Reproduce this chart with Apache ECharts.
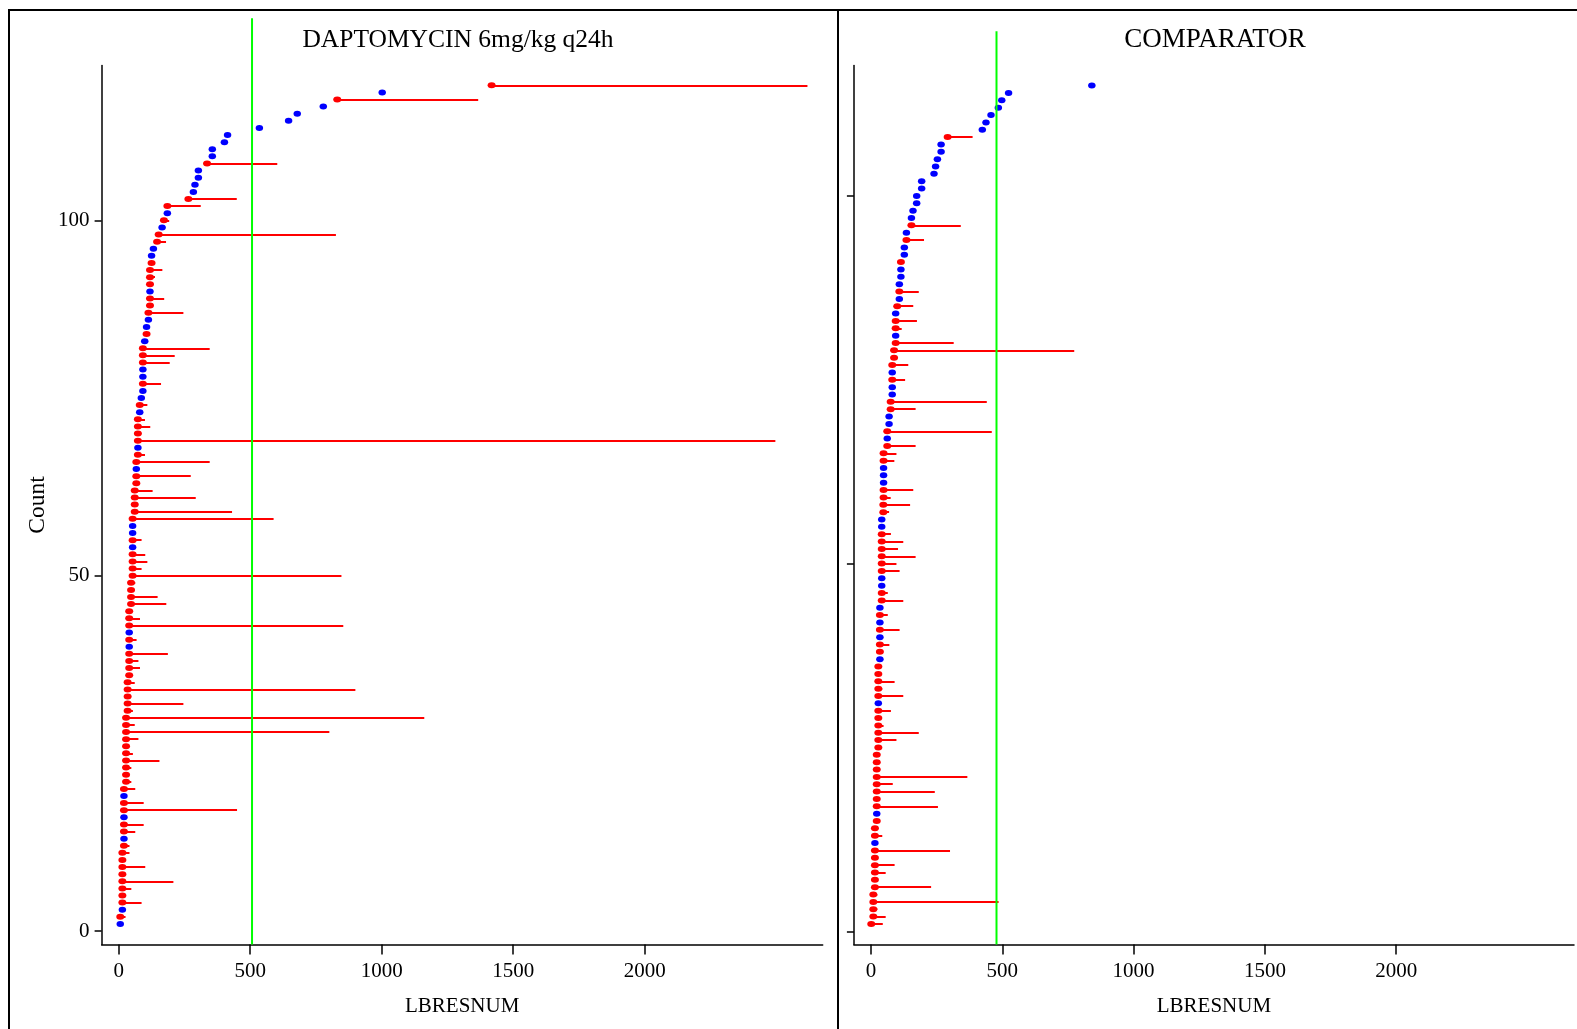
<!DOCTYPE html>
<html><head><meta charset="utf-8">
<script src="https://cdn.jsdelivr.net/npm/echarts@6/dist/echarts.min.js"></script>
<style>html,body{margin:0;padding:0;background:#fff}#c{width:1577px;height:1029px}</style>
</head><body><div id="c"></div>
<script>
const panelTitles = ['DAPTOMYCIN 6mg/kg q24h', 'COMPARATOR'];
const xAxisName = 'LBRESNUM';
const yAxisName = 'Count';
const xTicks = [0, 500, 1000, 1500, 2000];
const yTicks = [0, 50, 100];
const refLines = [507, 478];

// Count i (1..n) -> baseline value; max value (null = no increase, blue point)
const dapBase = [6,6,14,14,14,14,14,14,14,14,
  14,20,20,20,20,20,20,20,20,20,
  28,28,28,28,28,28,28,28,28,28,
  34,34,34,34,34,40,40,40,40,40,
  40,40,40,40,40,47,47,47,47,53,
  53,53,53,53,53,53,53,53,61,61,
  61,61,67,67,67,67,73,73,73,73,
  73,73,80,80,86,92,92,92,92,92,
  92,92,99,106,106,113,113,119,119,119,
  119,119,119,125,125,132,146,152,165,172,
  185,185,265,284,290,303,303,336,356,356,
  402,414,535,646,679,778,831,1002,1418];
const dapMax = [null,26,null,87,14,48,208,14,101,14,
  41,41,null,63,95,null,450,95,null,63,
  48,28,48,155,54,28,75,801,61,1162,
  54,246,34,900,61,40,81,75,187,null,
  68,null,854,81,40,181,148,55,63,847,
  87,109,101,null,87,null,null,589,431,61,
  293,129,67,274,null,346,100,null,2497,73,
  120,100,null,109,null,null,161,null,null,194,
  213,346,null,110,null,null,246,119,173,null,
  119,138,166,125,null,null,180,826,null,192,
  null,312,449,null,null,null,null,603,null,null,
  null,null,null,null,null,null,1367,null,2619];

const compBase = [1,9,9,9,9,15,15,15,15,15,
  15,15,15,15,22,22,22,22,22,22,
  22,22,22,22,28,28,28,28,28,28,
  28,28,28,28,28,28,34,34,34,34,
  34,34,34,34,41,41,41,41,41,41,
  41,41,41,41,41,41,47,47,48,48,
  48,48,48,48,48,62,62,62,69,69,
  75,75,81,81,81,81,81,88,88,94,
  94,94,94,94,100,108,108,108,114,114,
  114,127,127,135,135,154,154,160,174,174,
  193,193,240,246,253,267,267,292,424,438,
  457,485,498,524,841];
const compMax = [45,56,24,486,24,229,15,56,90,15,
  301,null,43,15,22,null,255,22,243,83,
  367,22,22,22,28,97,182,48,28,76,
  null,123,43,90,28,28,null,34,70,null,
  109,null,64,null,123,64,null,null,109,97,
  170,103,123,76,null,null,69,149,75,161,
  null,null,null,89,97,170,null,460,null,null,
  170,441,null,null,130,null,142,88,774,315,
  null,117,175,null,161,null,182,null,null,null,
  114,null,null,202,null,342,null,null,null,null,
  null,null,null,null,null,null,null,387,null,null,
  null,null,null,null,null];

const FONT = 'Liberation Serif';
const RED = '#ff0000', BLUE = '#0000ff', GREEN = '#00ff00';
const XMIN = -65, XMAX = 2677;

const chart = echarts.init(document.getElementById('c'), null, {renderer: 'canvas'});

const grids = [
  {left: 101.6, top: 65.4, width: 721.1, height: 879},
  {left: 853.9, top: 65.4, width: 720.1, height: 879},
  {left: 101.6, top: 18.3, width: 721.1, height: 926.1},
  {left: 853.9, top: 31.2, width: 720.1, height: 913.2}
];
const plain = v => String(v);

function mainX(gi) {
  return {
    type: 'value', gridIndex: gi, min: XMIN, max: XMAX,
    name: xAxisName, nameLocation: 'middle', nameGap: 52,
    nameTextStyle: {fontFamily: FONT, fontSize: 21, color: '#000'},
    axisLine: {show: true, onZero: false, lineStyle: {color: '#000', width: 1.5}},
    axisTick: {show: true, length: 10, customValues: xTicks, lineStyle: {color: '#000', width: 1.5}},
    axisLabel: {customValues: xTicks, formatter: plain, fontFamily: FONT, fontSize: 21, color: '#000', margin: 17},
    splitLine: {show: false}
  };
}
function hiddenX(gi) {
  return {type: 'value', gridIndex: gi, min: XMIN, max: XMAX, show: false,
    axisLine: {show: false}, splitLine: {show: false}};
}
function mainY(gi, ymin, ymax, labels) {
  return {
    type: 'value', gridIndex: gi, min: ymin, max: ymax,
    name: labels ? yAxisName : '', nameLocation: 'middle', nameGap: 52,
    nameTextStyle: {fontFamily: FONT, fontSize: 23.5, color: '#000'},
    axisLine: {show: true, onZero: false, lineStyle: {color: '#000', width: 1.5}},
    axisTick: {show: true, length: 7, customValues: yTicks, lineStyle: {color: '#000', width: 1.5}},
    axisLabel: {show: labels, customValues: yTicks, formatter: plain, fontFamily: FONT, fontSize: 21, color: '#000', margin: 12},
    splitLine: {show: false}
  };
}
function hiddenY(gi) {
  return {type: 'value', gridIndex: gi, min: 0, max: 1, show: false,
    axisLine: {show: false}, splitLine: {show: false}};
}

function panelSeries(base, max, ai) {
  const segs = [], red = [], blue = [];
  base.forEach((b, k) => {
    const c = k + 1;
    if (max[k] === null) { blue.push([b, c]); return; }
    red.push([b, c]);
    if (max[k] > b) segs.push({coords: [[b, c], [max[k], c]]});
  });
  return [
    {type: 'lines', coordinateSystem: 'cartesian2d', xAxisIndex: ai, yAxisIndex: ai,
     data: segs, z: 2, silent: true, polyline: false,
     lineStyle: {color: RED, width: 2, opacity: 1}},
    {type: 'scatter', xAxisIndex: ai, yAxisIndex: ai, data: red, symbol: 'circle',
     symbolSize: [8, 6], itemStyle: {color: RED, opacity: 1}, z: 3, silent: true},
    {type: 'scatter', xAxisIndex: ai, yAxisIndex: ai, data: blue, symbol: 'circle',
     symbolSize: [7.5, 6], itemStyle: {color: BLUE, opacity: 1}, z: 3, silent: true}
  ];
}
function refSeries(v, ai) {
  return {type: 'line', xAxisIndex: ai, yAxisIndex: ai, data: [[v, 0], [v, 1]],
    symbol: 'none', z: 5, silent: true, lineStyle: {color: GREEN, width: 2}};
}

const option = {
  animation: false,
  backgroundColor: '#fff',
  grid: grids,
  xAxis: [mainX(0), mainX(1), hiddenX(2), hiddenX(3)],
  yAxis: [mainY(0, -1.88, 121.8, true), mainY(1, -1.78, 117.75, false), hiddenY(2), hiddenY(3)],
  series: [
    ...panelSeries(dapBase, dapMax, 0),
    ...panelSeries(compBase, compMax, 1),
    refSeries(refLines[0], 2),
    refSeries(refLines[1], 3)
  ],
  graphic: [
    {type: 'rect', shape: {x: 9, y: 10, width: 1700, height: 1200}, silent: true,
     style: {fill: null, stroke: '#000', lineWidth: 2}},
    {type: 'line', shape: {x1: 838, y1: 10, x2: 838, y2: 1100}, silent: true,
     style: {stroke: '#000', lineWidth: 2}},
    {type: 'text', x: 458, y: 40, silent: true,
     style: {text: panelTitles[0], font: '25.5px "Liberation Serif"', fill: '#000', align: 'center', verticalAlign: 'middle'}},
    {type: 'text', x: 1215, y: 40, silent: true,
     style: {text: panelTitles[1], font: '27px "Liberation Serif"', fill: '#000', align: 'center', verticalAlign: 'middle'}}
  ]
};
chart.setOption(option);
</script>
</body></html>
